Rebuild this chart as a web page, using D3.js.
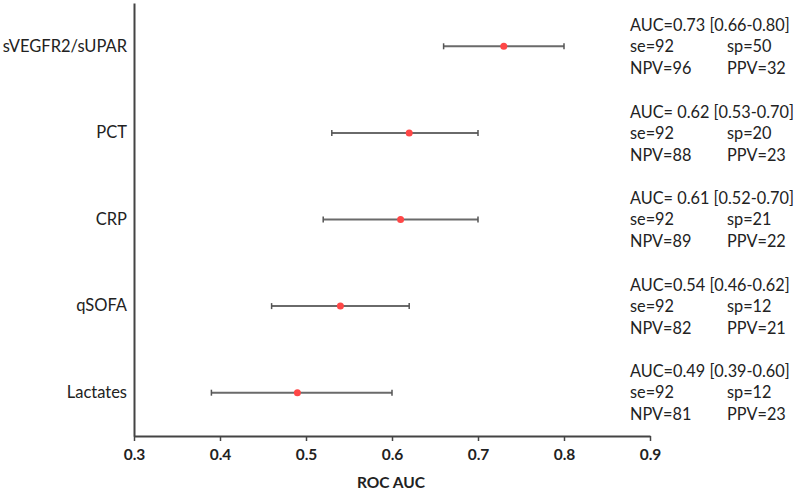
<!DOCTYPE html>
<html><head><meta charset="utf-8">
<script src="https://cdn.jsdelivr.net/npm/d3@7"></script>
<style>body{margin:0;background:#fff}svg{display:block}text{font-family:Lato,"Open Sans",sans-serif}</style>
</head><body><svg id="c" width="797" height="490"></svg>
<script>
const categories = ["sVEGFR2/sUPAR","PCT","CRP","qSOFA","Lactates"];
const auc = [0.73,0.62,0.61,0.54,0.49];
const lower = [0.66,0.53,0.52,0.46,0.39];
const upper = [0.80,0.70,0.70,0.62,0.60];
const aucLabels = ["AUC=0.73 [0.66-0.80]","AUC= 0.62 [0.53-0.70]","AUC= 0.61 [0.52-0.70]","AUC=0.54 [0.46-0.62]","AUC=0.49 [0.39-0.60]"];
const se = [92,92,92,92,92];
const sp = [50,20,21,12,12];
const npv = [96,88,89,82,81];
const ppv = [32,23,22,21,23];
const xTicks = [0.3,0.4,0.5,0.6,0.7,0.8,0.9];

const svg = d3.select("#c");
const x = d3.scaleLinear().domain([0.3,0.9]).range([134,650]);
const y = d3.scaleBand().domain(categories).range([3,436]);
const yc = c => y(c) + y.bandwidth()/2;
const axisCol = "#444";

// x axis
const xa = svg.append("g").attr("transform","translate(0,436)")
  .call(d3.axisBottom(x).tickValues(xTicks).tickFormat(d3.format(".1f")).tickSize(5).tickSizeOuter(0));
xa.select(".domain").attr("stroke",axisCol).attr("stroke-width",2);
xa.selectAll(".tick line").attr("stroke",axisCol).attr("stroke-width",1.5);
xa.selectAll(".tick text").attr("font-size",15.5).attr("font-weight","bold").attr("fill","#222").attr("dy","1.05em");

// y axis
const ya = svg.append("g").attr("transform","translate(134,0)")
  .call(d3.axisLeft(y).tickSize(0).tickPadding(7));
ya.select(".domain").attr("stroke",axisCol).attr("stroke-width",2);
ya.selectAll(".tick text").attr("font-size",16.5).attr("fill","#222");

svg.append("text").attr("x",391).attr("y",488).attr("text-anchor","middle")
  .attr("font-size",15.5).attr("font-weight","bold").attr("fill","#222").text("ROC AUC");

// error bars
const g = svg.append("g");
categories.forEach((c,i)=>{
  const cy = yc(c);
  g.append("line").attr("x1",x(lower[i])).attr("x2",x(upper[i])).attr("y1",cy).attr("y2",cy)
    .attr("stroke","#6a6a6a").attr("stroke-width",2);
  [lower[i],upper[i]].forEach(v=>{
    g.append("line").attr("x1",x(v)).attr("x2",x(v)).attr("y1",cy-3).attr("y2",cy+3)
      .attr("stroke","#555").attr("stroke-width",1.5);
  });
  g.append("circle").attr("cx",x(auc[i])).attr("cy",cy).attr("r",3.5).attr("fill","#ff4747");

  const t = svg.append("g").attr("font-size",16.3).attr("fill","#222");
  t.append("text").attr("x",630).attr("y",cy-21).attr("dy","0.35em").text(aucLabels[i]);
  t.append("text").attr("x",630).attr("y",cy).attr("dy","0.35em").text("se="+se[i]);
  t.append("text").attr("x",727).attr("y",cy).attr("dy","0.35em").text("sp="+sp[i]);
  t.append("text").attr("x",630).attr("y",cy+22).attr("dy","0.35em").text("NPV="+npv[i]);
  t.append("text").attr("x",727).attr("y",cy+22).attr("dy","0.35em").text("PPV="+ppv[i]);
});
</script></body></html>
